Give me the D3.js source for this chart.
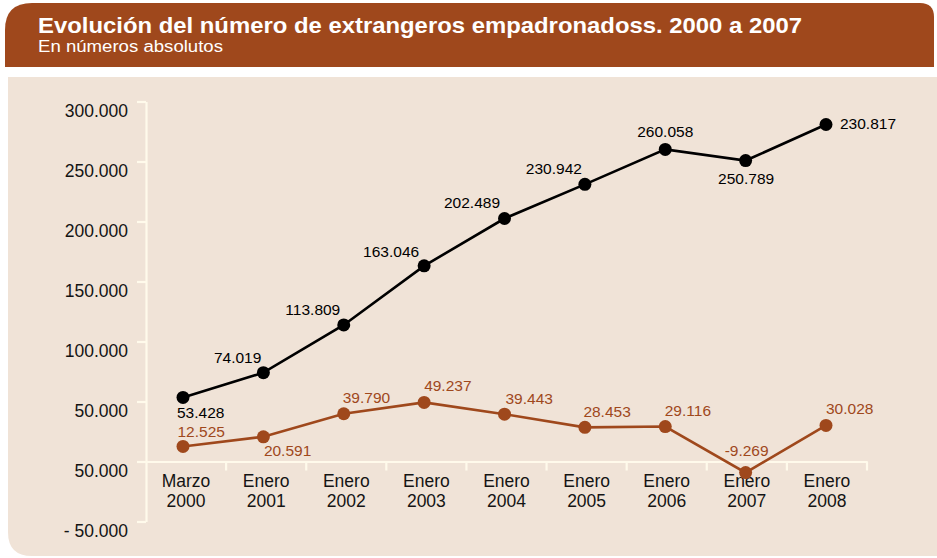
<!DOCTYPE html>
<html>
<head>
<meta charset="utf-8">
<script src="https://cdn.jsdelivr.net/npm/d3@7"></script>
<style>
  html, body { margin: 0; padding: 0; background: #ffffff; }
  svg { display: block; font-family: "Liberation Sans", Arial, Helvetica, sans-serif; }
</style>
</head>
<body>
<div id="chart"></div>
<script>
// --- data ---
const categories = ['Marzo 2000', 'Enero 2001', 'Enero 2002', 'Enero 2003', 'Enero 2004',
                    'Enero 2005', 'Enero 2006', 'Enero 2007', 'Enero 2008'];
// black series (total); last point sits near 281k although it is labelled 230.817
const totalValues = [53428, 74019, 113809, 163046, 202489, 230942, 260058, 250789, 280817];
const totalLabels = ['53.428', '74.019', '113.809', '163.046', '202.489', '230.942', '260.058', '250.789', '230.817'];
// brown series (yearly change)
const changeValues = [12525, 20591, 39790, 49237, 39443, 28453, 29116, -9269, 30028];
const changeLabels = ['12.525', '20.591', '39.790', '49.237', '39.443', '28.453', '29.116', '-9.269', '30.028'];
const yTickValues = [-50000, 0, 50000, 100000, 150000, 200000, 250000, 300000];
const yTickLabels = ['- 50.000', '50.000', '50.000', '100.000', '150.000', '200.000', '250.000', '300.000'];

const title = 'Evolución del número de extrangeros empadronadoss. 2000 a 2007';
const subtitle = 'En números absolutos';

// label placement next to each point: [anchor, dx, dy]
const totalLabelPos = [['start', -6, 21], ['end', -2, -10], ['end', -3.5, -9.5], ['end', -5, -9],
  ['end', -4.5, -10.5], ['end', -3, -10.5], ['middle', 0, -12.5], ['middle', 0.5, 23.5], ['start', 14, 4]];
const changeLabelPos = [['start', -5.5, -9], ['start', 0.5, 19.5], ['start', -1, -11], ['start', 0, -11.5],
  ['start', 1, -10.5], ['start', -1.5, -10], ['start', -0.5, -10.5], ['middle', 1, -16.5], ['start', 0, -11.5]];

const width = 937, height = 558;
const brown = '#9f481c';
const panel = '#f0e3d7';
const axisCol = '#fffaeb';
const ink = '#141414';

const svg = d3.select('#chart').append('svg')
    .attr('width', width)
    .attr('height', height);

// header bar with rounded top corners
svg.append('path')
    .attr('d', 'M5,67 V30 Q5,3 32,3 H920 Q934,3 934,17 V67 Z')
    .attr('fill', brown);

svg.append('text')
    .attr('x', 38).attr('y', 33)
    .attr('fill', '#fff')
    .attr('font-size', '22px')
    .attr('font-weight', 'bold')
    .attr('textLength', 764)
    .attr('lengthAdjust', 'spacingAndGlyphs')
    .text(title);

svg.append('text')
    .attr('x', 38).attr('y', 52)
    .attr('fill', '#fff')
    .attr('font-size', '16px')
    .attr('textLength', 185)
    .attr('lengthAdjust', 'spacingAndGlyphs')
    .text(subtitle);

// beige panel, rounded bottom-left corner
svg.append('path')
    .attr('d', 'M8,77 H937 V556 H32 Q8,556 8,532 Z')
    .attr('fill', panel);

// scales
const x = d3.scaleBand()
    .domain(categories)
    .range([146, 867]);
const bw = x.bandwidth();
// points sit a little left of the band centres
const xp = d3.scalePoint()
    .domain(categories)
    .range([183, 826]);

const y = d3.scaleLinear()
    .domain([-50000, 300000])
    .range([521.5, 101.5]);

// y axis
const yAxis = svg.append('g')
    .attr('transform', 'translate(146,0)')
    .call(d3.axisLeft(y)
        .tickValues(yTickValues)
        .tickSize(9)
        .tickSizeOuter(0)
        .tickPadding(9)
        .tickFormat((d, i) => yTickLabels[i]));
yAxis.select('.domain').attr('stroke', axisCol).attr('stroke-width', 2.2);
yAxis.selectAll('.tick line').attr('stroke', axisCol).attr('stroke-width', 2.2);
yAxis.selectAll('.tick text')
    .attr('fill', ink)
    .attr('font-size', '17.5px')
    .attr('dy', '1.15em')
    .attr('y', -5.5);
yAxis.attr('font-family', null);

// x axis at zero
const xAxis = svg.append('g')
    .attr('transform', `translate(0,${y(0)})`)
    .call(d3.axisBottom(x).tickSize(0).tickSizeOuter(0).tickPadding(0).tickFormat(''));
xAxis.select('.domain').attr('stroke', axisCol).attr('stroke-width', 2.2);
xAxis.attr('font-family', null);

// boundary ticks between categories
xAxis.selectAll('.sep')
    .data(categories)
    .join('line')
    .attr('class', 'sep')
    .attr('x1', d => x(d) + bw).attr('x2', d => x(d) + bw)
    .attr('y1', 0).attr('y2', 9)
    .attr('stroke', axisCol)
    .attr('stroke-width', 2.2);

// two-line category labels
const catText = xAxis.selectAll('.cat')
    .data(categories)
    .join('text')
    .attr('class', 'cat')
    .attr('text-anchor', 'middle')
    .attr('fill', ink)
    .attr('font-size', '17.5px');
catText.append('tspan')
    .attr('x', d => x(d) + bw / 2)
    .attr('y', 25)
    .text(d => d.split(' ')[0]);
catText.append('tspan')
    .attr('x', d => x(d) + bw / 2)
    .attr('y', 45.5)
    .text(d => d.split(' ')[1]);

// series
function drawSeries(values, labels, pos, color) {
    const pts = categories.map((c, i) => ({ c, v: values[i], label: labels[i], pos: pos[i] }));
    const line = d3.line().x(d => xp(d.c)).y(d => y(d.v));
    svg.append('path')
        .datum(pts)
        .attr('d', line)
        .attr('fill', 'none')
        .attr('stroke', color)
        .attr('stroke-width', 2.6);
    svg.append('g').selectAll('circle')
        .data(pts)
        .join('circle')
        .attr('cx', d => xp(d.c))
        .attr('cy', d => y(d.v))
        .attr('r', 6.5)
        .attr('fill', color);
    svg.append('g').selectAll('text')
        .data(pts)
        .join('text')
        .attr('x', d => xp(d.c) + d.pos[1])
        .attr('y', d => y(d.v) + d.pos[2])
        .attr('text-anchor', d => d.pos[0])
        .attr('fill', color)
        .attr('font-size', '15.5px')
        .text(d => d.label);
}

drawSeries(totalValues, totalLabels, totalLabelPos, '#000000');
drawSeries(changeValues, changeLabels, changeLabelPos, brown);
</script>
</body>
</html>
